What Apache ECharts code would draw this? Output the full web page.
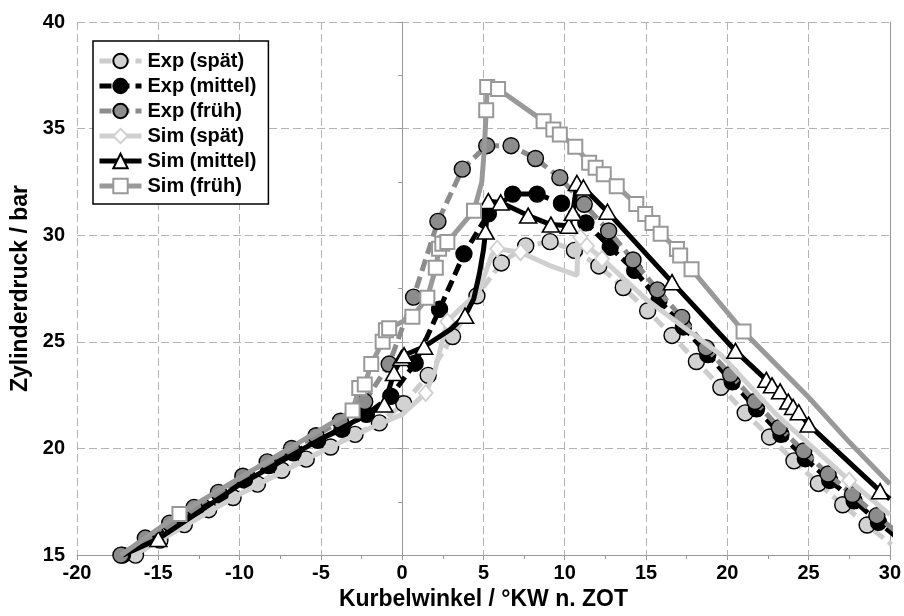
<!DOCTYPE html>
<html>
<head>
<meta charset="utf-8">
<script src="https://cdn.jsdelivr.net/npm/echarts@6/dist/echarts.min.js"></script>
<style>
  html, body { margin: 0; padding: 0; background: #fff; }
  #chart { width: 904px; height: 616px; }
</style>
</head>
<body>
<div id="chart"></div>
<script>
// Cylinder pressure over crank angle: measured (Exp) and simulated (Sim)
// for three injection timings (spät / mittel / früh).

const xTicks = [-20, -15, -10, -5, 0, 5, 10, 15, 20, 25, 30];
const yTicks = [15, 20, 25, 30, 35, 40];

// measured curves, one sample every 1.5 °KW
const expAngleSpaet = [-16.4, -14.9, -13.4, -11.9, -10.4, -8.9, -7.4, -5.9, -4.4, -2.9, -1.4, 0.1, 1.6, 3.1, 4.6, 6.1, 7.6, 9.1, 10.6, 12.1, 13.6, 15.1, 16.6, 18.1, 19.6, 21.1, 22.6, 24.1, 25.6, 27.1, 28.6, 30.1];
const expPressSpaet = [15.0, 15.7, 16.43, 17.13, 17.7, 18.33, 18.98, 19.5, 20.07, 20.66, 21.2, 22.1, 23.43, 25.25, 27.16, 28.7, 29.5, 29.7, 29.29, 28.56, 27.55, 26.46, 25.3, 24.08, 22.87, 21.67, 20.54, 19.42, 18.36, 17.36, 16.41, 15.5];

const expAngleMittel = [-17.2, -15.7, -14.2, -12.7, -11.2, -9.7, -8.2, -6.7, -5.2, -3.7, -2.2, -0.7, 0.8, 2.3, 3.8, 5.3, 6.8, 8.3, 9.8, 11.3, 12.8, 14.3, 15.8, 17.3, 18.8, 20.3, 21.8, 23.3, 24.8, 26.3, 27.8, 29.3, 30.8];
const expPressMittel = [15.0, 15.72, 16.42, 17.12, 17.82, 18.52, 19.2, 19.8, 20.38, 20.9, 21.6, 22.45, 24.0, 26.53, 29.13, 31.0, 31.93, 31.93, 31.5, 30.58, 29.44, 28.35, 26.95, 25.7, 24.4, 23.13, 21.86, 20.66, 19.52, 18.5, 17.55, 16.54, 15.6];

const expAngleFrueh = [-17.3, -15.8, -14.3, -12.8, -11.3, -9.8, -8.3, -6.8, -5.3, -3.8, -2.3, -0.8, 0.7, 2.2, 3.7, 5.2, 6.7, 8.2, 9.7, 11.2, 12.7, 14.2, 15.7, 17.2, 18.7, 20.2, 21.7, 23.2, 24.7, 26.2, 27.7, 29.2, 30.7];
const expPressFrueh = [15.0, 15.8, 16.5, 17.24, 17.94, 18.7, 19.37, 20.0, 20.6, 21.28, 22.2, 23.96, 27.1, 30.65, 33.1, 34.2, 34.2, 33.6, 32.7, 31.45, 30.2, 28.84, 27.44, 26.15, 24.72, 23.47, 22.2, 20.98, 19.88, 18.8, 17.84, 16.85, 15.9];

// simulated curves: plain curve points and the marked solver output points
const simSpaetCurve = [[-16.5, 15.0], [-10.0, 17.85], [-5.0, 19.85], [-2.0, 20.95], [0.0, 21.6], [2.0, 23.6], [3.5, 26.5], [4.72, 27.36], [5.5, 29.05], [9.0, 28.6], [10.76, 28.12], [10.8, 30.0], [15.0, 27.0], [19.6, 24.4], [23.0, 21.6], [30.0, 16.9]];
const simSpaetMarks = [[1.45, 22.6], [2.78, 25.95], [5.85, 29.37], [7.28, 29.2], [10.96, 29.9], [11.37, 29.5], [12.3, 28.9], [27.5, 18.5]];

const simMittelCurve = [[-17.2, 15.0], [-10.0, 18.3], [-5.0, 20.45], [-2.5, 21.45], [3.0, 25.6], [4.4, 27.0], [4.75, 28.2], [5.0, 29.3], [30.0, 17.63]];
const simMittelMarks = [[-15.0, 15.76], [-1.1, 22.06], [-0.5, 23.54], [-0.05, 24.24], [0.12, 24.37], [1.35, 24.77], [3.87, 26.23], [5.13, 30.17], [5.3, 31.6], [6.06, 31.54], [7.75, 30.92], [9.15, 30.5], [10.25, 30.45], [10.5, 31.05], [10.75, 32.45], [11.15, 32.24], [12.63, 31.1], [16.6, 27.8], [20.5, 24.58], [22.4, 23.22], [22.75, 22.96], [23.25, 22.68], [23.75, 22.2], [24.05, 21.95], [24.4, 21.7], [25.0, 21.12], [29.4, 18.0]];

const simFruehCurve = [[-17.3, 15.0], [4.9, 32.5], [5.05, 34.0], [25.0, 22.4], [27.5, 20.3], [30.0, 18.33]];
const simFruehMarks = [[-13.7, 16.93], [-3.05, 21.78], [-2.64, 22.84], [-2.3, 23.0], [-1.9, 23.96], [-1.2, 25.0], [-1.0, 25.55], [-0.8, 25.64], [0.63, 26.18], [1.55, 27.07], [2.07, 28.48], [2.27, 29.37], [2.47, 29.6], [2.78, 29.68], [4.42, 31.15], [5.17, 35.86], [5.23, 36.95], [5.9, 36.86], [8.7, 35.35], [9.3, 34.96], [9.7, 34.73], [10.65, 34.15], [11.5, 33.4], [11.9, 33.17], [12.4, 32.86], [13.2, 32.3], [14.4, 31.46], [14.95, 31.0], [15.4, 30.57], [15.9, 30.07], [16.9, 29.36], [17.1, 29.05], [17.8, 28.4], [21.0, 25.48]];

function zipXY(xs, ys) { return xs.map((x, i) => [x, ys[i]]); }

// merge plain curve points (no symbol) with marked points, ordered by angle
function simData(curve, marks) {
  const pts = curve.map(p => ({ value: p, symbol: 'none' }))
    .concat(marks.map(p => ({ value: p })));
  pts.sort((a, b) => a.value[0] - b.value[0]);
  return pts;
}

const FONT = '"Liberation Sans", Arial, sans-serif';
const DASH = [12, 6];

const chart = echarts.init(document.getElementById('chart'), null, { renderer: 'canvas' });

chart.setOption({
  animation: false,
  backgroundColor: '#fff',
  grid: { left: 77, right: 13, top: 22, bottom: 58, containLabel: false },
  legend: {
    left: 93, top: 41,
    orient: 'vertical',
    backgroundColor: '#fff',
    borderColor: '#000',
    borderWidth: 1.5,
    borderRadius: 0,
    padding: [10, 12, 8, 4],
    itemGap: 5,
    itemWidth: 42,
    itemHeight: 18,
    lineStyle: { width: 5 },
    textStyle: { fontFamily: FONT, fontWeight: 'bold', fontSize: 20, color: '#000', padding: [0, 0, 0, 1] },
    data: ['Exp (spät)', 'Exp (mittel)', 'Exp (früh)', 'Sim (spät)', 'Sim (mittel)', 'Sim (früh)']
  },
  xAxis: {
    type: 'value',
    min: xTicks[0], max: xTicks[xTicks.length - 1], interval: 5,
    name: 'Kurbelwinkel / °KW n. ZOT',
    nameLocation: 'middle', nameGap: 32,
    nameTextStyle: { fontFamily: FONT, fontWeight: 'bold', fontSize: 23, color: '#000' },
    axisLine: { onZero: false, lineStyle: { color: '#999', width: 1 } },
    axisTick: { show: true, inside: false, length: 5, lineStyle: { color: '#999' } },
    minorTick: { show: true, splitNumber: 2, length: 4, lineStyle: { color: '#999' } },
    axisLabel: { margin: 8, fontFamily: FONT, fontWeight: 'bold', fontSize: 20, color: '#000' },
    splitLine: { show: true, lineStyle: { color: '#b4b4b4', type: [8, 4], width: 1 } }
  },
  yAxis: [{
    type: 'value',
    min: yTicks[0], max: yTicks[yTicks.length - 1], interval: 5,
    name: 'Zylinderdruck / bar',
    nameLocation: 'middle', nameGap: 44, nameRotate: 90,
    nameTextStyle: { fontFamily: FONT, fontWeight: 'bold', fontSize: 23, color: '#000' },
    axisLine: { show: true, lineStyle: { color: '#999', width: 1 } },
    axisTick: { show: true, inside: false, length: 5, lineStyle: { color: '#999' } },
    minorTick: { show: true, splitNumber: 2, length: 4, lineStyle: { color: '#999' } },
    axisLabel: { margin: 12, fontFamily: FONT, fontWeight: 'bold', fontSize: 20, color: '#000' },
    splitLine: { show: true, lineStyle: { color: '#b4b4b4', type: [8, 4], width: 1 } }
  }, {
    type: 'value', position: 'right',
    min: yTicks[0], max: yTicks[yTicks.length - 1], interval: 5,
    axisLine: { show: true, lineStyle: { color: '#999', width: 1 } },
    axisTick: { show: false }, axisLabel: { show: false }, splitLine: { show: false }
  }],
  series: [
    {
      name: 'Exp (spät)', type: 'line', z: 2,
      data: zipXY(expAngleSpaet, expPressSpaet),
      symbol: 'circle', symbolSize: 16,
      itemStyle: { color: '#d2d2d2', borderColor: '#000', borderWidth: 1.4 },
      lineStyle: { color: '#cccccc', width: 5, type: DASH },
      emphasis: { disabled: true }
    },
    {
      name: 'Exp (mittel)', type: 'line', z: 3,
      data: zipXY(expAngleMittel, expPressMittel),
      symbol: 'circle', symbolSize: 16,
      itemStyle: { color: '#000', borderColor: '#000', borderWidth: 1.4 },
      lineStyle: { color: '#000', width: 5, type: DASH },
      emphasis: { disabled: true }
    },
    {
      name: 'Exp (früh)', type: 'line', z: 4,
      data: zipXY(expAngleFrueh, expPressFrueh),
      symbol: 'circle', symbolSize: 16,
      itemStyle: { color: '#8c8c8c', borderColor: '#000', borderWidth: 1.4 },
      lineStyle: { color: '#8c8c8c', width: 5, type: DASH },
      emphasis: { disabled: true }
    },
    {
      name: 'Sim (spät)', type: 'line', z: 5,
      data: simData(simSpaetCurve, simSpaetMarks),
      symbol: 'diamond', symbolSize: [14, 16],
      itemStyle: { color: '#fff', borderColor: '#d0d0d0', borderWidth: 1.8 },
      lineStyle: { color: '#d0d0d0', width: 5 },
      emphasis: { disabled: true }
    },
    {
      name: 'Sim (mittel)', type: 'line', z: 6,
      data: simData(simMittelCurve, simMittelMarks),
      symbol: 'triangle', symbolSize: [17, 15],
      itemStyle: { color: '#fff', borderColor: '#000', borderWidth: 1.6 },
      lineStyle: { color: '#000', width: 5 },
      emphasis: { disabled: true }
    },
    {
      name: 'Sim (früh)', type: 'line', z: 7,
      data: simData(simFruehCurve, simFruehMarks),
      symbol: 'rect', symbolSize: 14,
      itemStyle: { color: '#fff', borderColor: '#999', borderWidth: 2 },
      lineStyle: { color: '#999', width: 5 },
      emphasis: { disabled: true }
    }
  ]
});
</script>
</body>
</html>
